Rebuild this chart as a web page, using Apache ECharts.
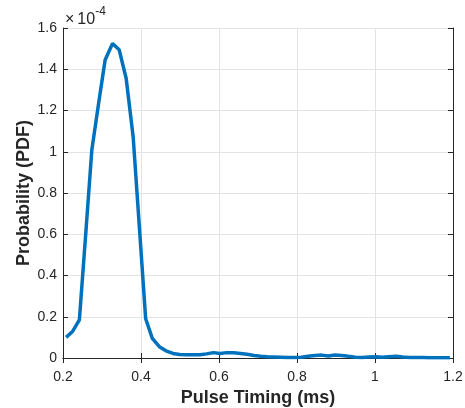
<!DOCTYPE html>
<html><head><meta charset="utf-8">
<script src="https://cdn.jsdelivr.net/npm/echarts@6/dist/echarts.min.js"></script>
<style>html,body{margin:0;padding:0;background:#fff}#c{width:465px;height:408px}</style>
</head><body><div id="c"></div>
<script>
// Pulse timing (ms)
const xValues = [0.208,0.225,0.242,0.259,0.274,0.291,0.308,0.327,0.344,0.362,0.380,0.396,0.412,0.429,0.447,0.464,0.482,0.499,0.516,0.534,0.551,0.568,0.586,0.603,0.620,0.638,0.655,0.672,0.690,0.707,0.724,0.742,0.759,0.776,0.794,0.811,0.828,0.846,0.863,0.880,0.898,0.915,0.932,0.950,0.967,0.984,1.002,1.019,1.036,1.054,1.071,1.088,1.106,1.123,1.140,1.158,1.175,1.192];
// Probability (PDF), in units of 1e-4
const pdfValues = [0.10,0.13,0.185,0.62,1.01,1.23,1.445,1.525,1.495,1.355,1.07,0.63,0.19,0.095,0.055,0.035,0.022,0.017,0.016,0.016,0.016,0.02,0.026,0.022,0.026,0.025,0.022,0.018,0.012,0.008,0.006,0.005,0.004,0.003,0.002,0.004,0.008,0.012,0.014,0.010,0.015,0.012,0.008,0.004,0.003,0.005,0.006,0.004,0.006,0.008,0.005,0.003,0.002,0.002,0.001,0.001,0.001,0.001];
const xTicks = [0.2,0.4,0.6,0.8,1,1.2];
const yTicks = [0,0.2,0.4,0.6,0.8,1,1.2,1.4,1.6];
const xTitle = 'Pulse Timing (ms)';
const yTitle = 'Probability (PDF)';
const exponentLabel = '-4';

const chart = echarts.init(document.getElementById('c'), null, {renderer:'canvas'});
const fmt = v => String(parseFloat(Number(v).toFixed(2)));
const axisCol = '#262626';
const font = 'Liberation Sans, Arial, Helvetica, sans-serif';
const baseX = {
  type:'value', min:xTicks[0], max:xTicks[xTicks.length-1], interval:0.2,
  axisLine:{show:true,lineStyle:{color:axisCol,width:1}},
  axisTick:{show:true,inside:true,length:5,lineStyle:{color:axisCol}},
  splitLine:{show:false}
};
const baseY = {
  type:'value', min:yTicks[0], max:yTicks[yTicks.length-1], interval:0.2,
  axisLine:{show:true,lineStyle:{color:axisCol,width:1}},
  axisTick:{show:true,inside:true,length:5,lineStyle:{color:axisCol}},
  splitLine:{show:false}
};
chart.setOption({
  animation:false,
  backgroundColor:'#fff',
  grid:{left:63,right:12,top:28,bottom:50,containLabel:false,outerBoundsMode:'none'},
  xAxis:[
    Object.assign({}, baseX, {position:'bottom',
      axisLabel:{color:axisCol,fontSize:14,fontFamily:font,margin:12,formatter:fmt},
      splitLine:{show:true,lineStyle:{color:'#e3e3e3',width:1}},
      name:xTitle,nameLocation:'middle',nameGap:31,nameMoveOverlap:false,
      nameTextStyle:{color:axisCol,fontSize:18,fontWeight:'bold',fontFamily:font}}),
    Object.assign({}, baseX, {position:'top',axisLabel:{show:false}})
  ],
  yAxis:[
    Object.assign({}, baseY, {position:'left',
      axisLabel:{color:axisCol,fontSize:14,fontFamily:font,margin:6,formatter:fmt},
      splitLine:{show:true,lineStyle:{color:'#e3e3e3',width:1}},
      name:yTitle,nameLocation:'middle',nameGap:30,nameRotate:90,nameMoveOverlap:false,
      nameTextStyle:{color:axisCol,fontSize:18,fontWeight:'bold',fontFamily:font}}),
    Object.assign({}, baseY, {position:'right',axisLabel:{show:false}})
  ],
  graphic:[{
    type:'text', left:65, top:6,
    style:{
      text:'{a|×}{c|10}{b|' + exponentLabel + '}',
      rich:{
        a:{fontSize:16,fontFamily:font,fill:axisCol,verticalAlign:'bottom',lineHeight:22,padding:[0,3,0,0]},
        c:{fontSize:16,fontFamily:font,fill:axisCol,verticalAlign:'bottom',lineHeight:22},
        b:{fontSize:12,fontFamily:font,fill:axisCol,verticalAlign:'top',lineHeight:12,padding:[0,0,10,0]}
      }
    }
  }],
  series:[{
    type:'line', xAxisIndex:0, yAxisIndex:0,
    data:xValues.map((x,i)=>[x,pdfValues[i]]),
    showSymbol:false, smooth:false,
    lineStyle:{color:'#0072BD',width:3.5},
    clip:true
  }]
});
</script></body></html>
